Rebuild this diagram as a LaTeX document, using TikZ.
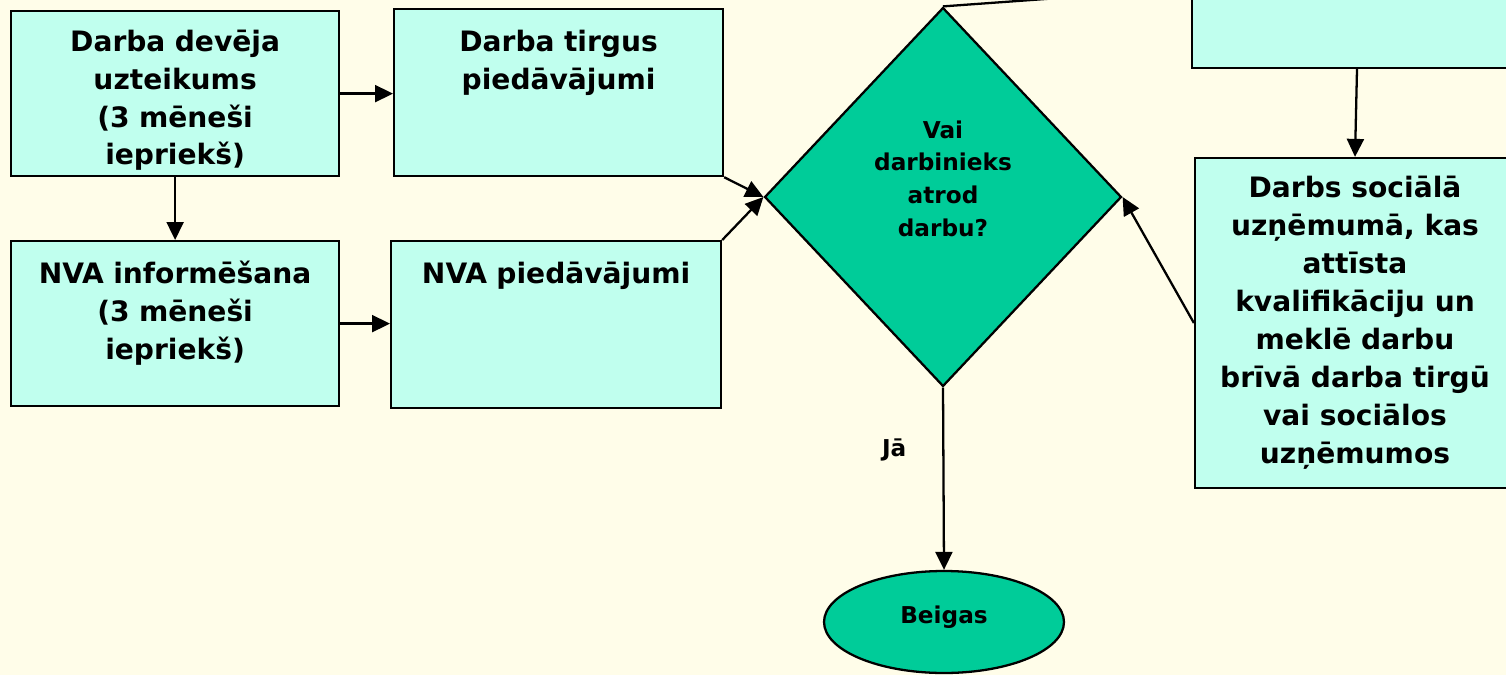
\documentclass[tikz,border=0pt]{standalone}
\usepackage{fontspec}
\setmainfont{DejaVu Sans}
\usepackage{tikz}
\usetikzlibrary{shapes,arrows.meta}
\definecolor{bgyellow}{RGB}{255,253,233}
\definecolor{boxcyan}{RGB}{192,255,238}
\definecolor{decgreen}{RGB}{0,204,153}

\begin{document}
\begin{tikzpicture}[x=0.02cm,y=-0.02cm,line width=1.3pt,
  every node/.style={font=\bfseries\fontsize{16}{21.6}\selectfont},
  flow/.style={draw,-{Triangle[length=0.36cm,width=0.34cm]}}]
\tikzstyle{box}=[draw,fill=boxcyan,rectangle,align=center,inner sep=0pt]
\tikzstyle{topbox}=[box,text width=6.2cm,text height=0.84cm,anchor=north west]
\tikzstyle{small}=[font=\bfseries\fontsize{13.2}{18.6}\selectfont]

\useasboundingbox (0,0) rectangle (1506,675);
\clip (0,0) rectangle (1506,675);
\fill[bgyellow] (0,0) rectangle (1506,675);

\node [topbox,minimum width=6.56cm,text height=0.8cm,text depth=2.5cm] (notice) at (10,10) {Darba devēja\\uzteikums\\(3 mēneši\\iepriekš)};
\node [topbox,minimum width=6.58cm,text depth=2.5cm] (market) at (393,8) {Darba tirgus\\piedāvājumi};
\node [topbox,minimum width=6.56cm,text depth=2.46cm] (inform) at (10,240) {NVA informēšana\\(3 mēneši\\iepriekš)};
\node [topbox,minimum width=6.6cm,text depth=2.5cm] (offers) at (390,240) {NVA piedāvājumi};

\node [draw,fill=decgreen,diamond,small,align=center,inner sep=0pt,text width=3.2cm,
  minimum width=7.14cm,minimum height=7.58cm,text height=9.6pt,text depth=76.4pt]
  (found) at (943,197) {Vai\\darbinieks\\atrod\\darbu?};
\node [draw,fill=decgreen,ellipse,small,inner sep=0pt,text depth=8.4pt,
  minimum width=4.8cm,minimum height=2.04cm] (stop) at (944,622) {Beigas};

\node [box,minimum width=6.6cm,minimum height=3.18cm] (upper) at (1357,-11.5) {};
\node [box,minimum width=6.4cm,minimum height=6.6cm] (socent) at (1355,323)
  {Darbs sociālā\\uzņēmumā, kas\\attīsta\\kvalifikāciju un\\meklē darbu\\brīvā darba tirgū\\vai sociālos\\uzņēmumos};

% connectors
\draw[flow] (notice.east) -- (notice.east -| market.west);
\draw[flow] (notice) -- (inform);
\draw[flow] (inform.east) -- (inform.east -| offers.west);
\draw[flow] (market.south east) -- (found.west);
\draw[flow] (offers.north east) -- (found.west);
\draw[flow] (found.south) -- node[pos=0.34,left=0.6cm,small] {Jā} (stop.north);
\draw[flow] (socent.west) -- (found.east);
\draw[flow] (upper.south) -- (socent.north);
\draw[flow] (found.north) -- (upper.west);

\end{tikzpicture}
\end{document}
